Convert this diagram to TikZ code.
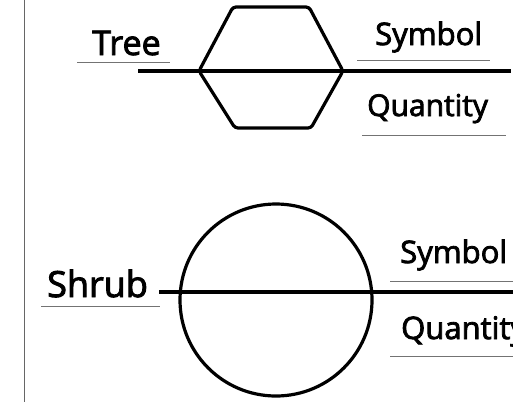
\documentclass[tikz,border=0pt]{standalone}
\usepackage{fontspec}
\setmainfont{Open Sans}
\newfontfamily\lblfont[FakeBold=2.6]{Open Sans}
\begin{document}
\begin{tikzpicture}[x=1pt,y=-1pt,
  heavy/.style={line width=3.2pt, line join=round},
  uline/.style={line width=0.9pt, draw=black!55},
  lbl/.style={anchor=base west, inner sep=0pt},
  frame/.style={line width=0.9pt, draw=black!60}]
\useasboundingbox (0,0) rectangle (513,402);
\clip (0,0) rectangle (513,402);
\fill[white] (0,0) rectangle (513,402);
% left margin line
\coordinate (ft) at (24,0);
\coordinate (fb) at (24,402);
\draw[frame] (ft) -- (fb);
% ---- Tree ----
\coordinate (h1) at (233,7);
\coordinate (h2) at (309,7);
\coordinate (h3) at (343,71);
\coordinate (h4) at (311,128);
\coordinate (h5) at (235,128);
\coordinate (h6) at (199,71);
\draw[heavy, rounded corners=3pt] (h6) -- (h1) -- (h2) -- (h3) -- (h4) -- (h5) -- cycle;
\coordinate (l1) at (138,71);
\coordinate (r1) at (511,71);
\draw[heavy] (l1) -- (r1);
\node[lbl, font=\lblfont\fontsize{34}{34}\selectfont] (tree) at (92,55) {Tree};
\node[lbl, font=\lblfont\fontsize{31}{31}\selectfont] (sym1) at (375,45) {Symbol};
\node[lbl, font=\lblfont\fontsize{30}{30}\selectfont] (qty1) at (367,116) {Quantity};
\coordinate (u1a) at (77,62);  \coordinate (u1b) at (170,62);
\coordinate (u2a) at (357,60); \coordinate (u2b) at (490,60);
\coordinate (u3a) at (362,135); \coordinate (u3b) at (506,135);
\draw[uline] (u1a) -- (u1b);
\draw[uline] (u2a) -- (u2b);
\draw[uline] (u3a) -- (u3b);
% ---- Shrub ----
\node[circle, draw, heavy, minimum size=192pt, inner sep=0pt] (circ) at (276,300) {};
\coordinate (l2) at (159,292);
\coordinate (r2) at (520,292);
\draw[heavy] (l2) -- (r2);
\node[lbl, font=\lblfont\fontsize{36}{36}\selectfont] (shrub) at (47,297) {Shrub};
\node[lbl, font=\lblfont\fontsize{31}{31}\selectfont] (sym2) at (400,263) {Symbol};
\node[lbl, font=\lblfont\fontsize{31}{31}\selectfont] (qty2) at (401,339) {Quantity};
\coordinate (u4a) at (41,306);  \coordinate (u4b) at (160,306);
\coordinate (u5a) at (390,281); \coordinate (u5b) at (520,281);
\coordinate (u6a) at (390,356); \coordinate (u6b) at (520,356);
\draw[uline] (u4a) -- (u4b);
\draw[uline] (u5a) -- (u5b);
\draw[uline] (u6a) -- (u6b);
\end{tikzpicture}
\end{document}
